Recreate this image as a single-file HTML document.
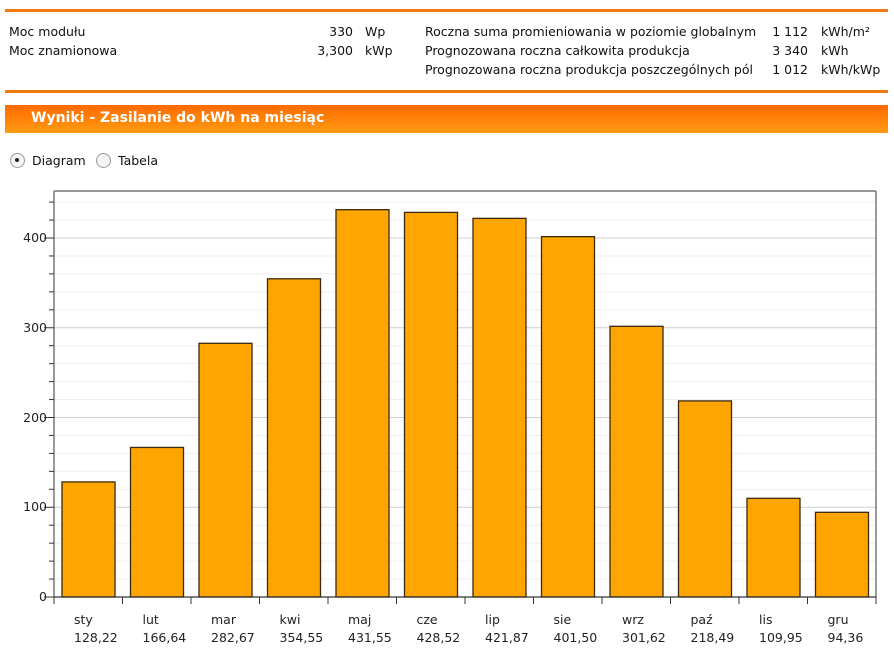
<!DOCTYPE html>
<html><head><meta charset="utf-8"><style>
body{margin:0;width:894px;height:662px;background:#fff;font-family:"DejaVu Sans","Liberation Sans",sans-serif;font-size:12.5px;color:#111;position:relative;overflow:hidden}
.a{position:absolute;white-space:nowrap}
.r{text-align:right}
</style></head><body>
<div class="a" style="left:5px;top:9px;width:883px;height:3px;background:#f07a10"></div>
<div class="a" style="left:9px;top:24px">Moc modułu</div>
<div class="a" style="left:9px;top:43px">Moc znamionowa</div>
<div class="a r" style="left:280px;width:73px;top:24px">330</div>
<div class="a r" style="left:280px;width:73px;top:43px">3,300</div>
<div class="a" style="left:365px;top:24px">Wp</div>
<div class="a" style="left:365px;top:43px">kWp</div>
<div class="a" style="left:425px;top:24px">Roczna suma promieniowania w poziomie globalnym</div>
<div class="a" style="left:425px;top:43px">Prognozowana roczna całkowita produkcja</div>
<div class="a" style="left:425px;top:62px">Prognozowana roczna produkcja poszczególnych pól</div>
<div class="a r" style="left:740px;width:68px;top:24px">1 112</div>
<div class="a r" style="left:740px;width:68px;top:43px">3 340</div>
<div class="a r" style="left:740px;width:68px;top:62px">1 012</div>
<div class="a" style="left:821px;top:24px">kWh/m²</div>
<div class="a" style="left:821px;top:43px">kWh</div>
<div class="a" style="left:821px;top:62px">kWh/kWp</div>
<div class="a" style="left:5px;top:90px;width:883px;height:3px;background:#f07a10"></div>
<div class="a" style="left:5px;top:105px;width:883px;height:28px;background:linear-gradient(#ff6a00,#ff9a10)"></div>
<div class="a" style="left:31px;top:110px;color:#fff;font-weight:bold;font-size:14px">Wyniki - Zasilanie do kWh na miesiąc</div>
<div class="a" style="left:10px;top:153px;width:13px;height:13px;border:1px solid #999;border-radius:50%;background:#f4f4f4"></div>
<div class="a" style="left:15px;top:158px;width:4px;height:4px;border-radius:50%;background:#222"></div>
<div class="a" style="left:32px;top:153px">Diagram</div>
<div class="a" style="left:96px;top:153px;width:13px;height:13px;border:1px solid #999;border-radius:50%;background:#f4f4f4"></div>
<div class="a" style="left:118px;top:153px">Tabela</div>
<svg class="a" style="left:0;top:0" width="894" height="662" font-family="DejaVu Sans, Liberation Sans, sans-serif" font-size="12.5" fill="#222">
<g stroke="#efefef">
<line x1="54" x2="876" y1="579.05" y2="579.05"/><line x1="54" x2="876" y1="561.1" y2="561.1"/><line x1="54" x2="876" y1="543.15" y2="543.15"/><line x1="54" x2="876" y1="525.2" y2="525.2"/>
<line x1="54" x2="876" y1="489.3" y2="489.3"/><line x1="54" x2="876" y1="471.35" y2="471.35"/><line x1="54" x2="876" y1="453.4" y2="453.4"/><line x1="54" x2="876" y1="435.45" y2="435.45"/>
<line x1="54" x2="876" y1="399.55" y2="399.55"/><line x1="54" x2="876" y1="381.6" y2="381.6"/><line x1="54" x2="876" y1="363.65" y2="363.65"/><line x1="54" x2="876" y1="345.7" y2="345.7"/>
<line x1="54" x2="876" y1="309.8" y2="309.8"/><line x1="54" x2="876" y1="291.85" y2="291.85"/><line x1="54" x2="876" y1="273.9" y2="273.9"/><line x1="54" x2="876" y1="255.95" y2="255.95"/>
<line x1="54" x2="876" y1="220.05" y2="220.05"/><line x1="54" x2="876" y1="202.1" y2="202.1"/>
</g>
<g stroke="#cfcfcf">
<line x1="54" x2="876" y1="507.25" y2="507.25"/><line x1="54" x2="876" y1="417.5" y2="417.5"/><line x1="54" x2="876" y1="327.75" y2="327.75"/><line x1="54" x2="876" y1="238" y2="238"/>
</g>
<g stroke="#333">
<line x1="49" x2="54" y1="579.05" y2="579.05"/><line x1="49" x2="54" y1="561.1" y2="561.1"/><line x1="49" x2="54" y1="543.15" y2="543.15"/><line x1="49" x2="54" y1="525.2" y2="525.2"/>
<line x1="49" x2="54" y1="489.3" y2="489.3"/><line x1="49" x2="54" y1="471.35" y2="471.35"/><line x1="49" x2="54" y1="453.4" y2="453.4"/><line x1="49" x2="54" y1="435.45" y2="435.45"/>
<line x1="49" x2="54" y1="399.55" y2="399.55"/><line x1="49" x2="54" y1="381.6" y2="381.6"/><line x1="49" x2="54" y1="363.65" y2="363.65"/><line x1="49" x2="54" y1="345.7" y2="345.7"/>
<line x1="49" x2="54" y1="309.8" y2="309.8"/><line x1="49" x2="54" y1="291.85" y2="291.85"/><line x1="49" x2="54" y1="273.9" y2="273.9"/><line x1="49" x2="54" y1="255.95" y2="255.95"/>
<line x1="49" x2="54" y1="220.05" y2="220.05"/><line x1="49" x2="54" y1="202.1" y2="202.1"/>
<line x1="44" x2="54" y1="597" y2="597"/><line x1="44" x2="54" y1="507.25" y2="507.25"/><line x1="44" x2="54" y1="417.5" y2="417.5"/><line x1="44" x2="54" y1="327.75" y2="327.75"/><line x1="44" x2="54" y1="238" y2="238"/>
</g>
<g text-anchor="end">
<text x="47" y="601">0</text><text x="47" y="511">100</text><text x="47" y="422">200</text><text x="47" y="332">300</text><text x="47" y="242">400</text>
</g>
<g fill="#ffa500" stroke="#3a2a10" stroke-width="1.3">
<rect x="62" y="481.92" width="53" height="115.08"/>
<rect x="130.5" y="447.44" width="53" height="149.56"/>
<rect x="199" y="343.3" width="53" height="253.7"/>
<rect x="267.5" y="278.79" width="53" height="318.21"/>
<rect x="336" y="209.68" width="53" height="387.32"/>
<rect x="404.5" y="212.4" width="53" height="384.6"/>
<rect x="473" y="218.37" width="53" height="378.63"/>
<rect x="541.5" y="236.65" width="53" height="360.35"/>
<rect x="610" y="326.3" width="53" height="270.7"/>
<rect x="678.5" y="400.91" width="53" height="196.09"/>
<rect x="747" y="498.32" width="53" height="98.68"/>
<rect x="815.5" y="512.31" width="53" height="84.69"/>
</g>
<g stroke="#333">
<line x1="54" x2="54" y1="597" y2="604"/><line x1="122.5" x2="122.5" y1="597" y2="604"/><line x1="191" x2="191" y1="597" y2="604"/><line x1="259.5" x2="259.5" y1="597" y2="604"/><line x1="328" x2="328" y1="597" y2="604"/><line x1="396.5" x2="396.5" y1="597" y2="604"/><line x1="465" x2="465" y1="597" y2="604"/><line x1="533.5" x2="533.5" y1="597" y2="604"/><line x1="602" x2="602" y1="597" y2="604"/><line x1="670.5" x2="670.5" y1="597" y2="604"/><line x1="739" x2="739" y1="597" y2="604"/><line x1="807.5" x2="807.5" y1="597" y2="604"/><line x1="876" x2="876" y1="191" y2="604"/>
<line x1="54" x2="54" y1="191" y2="604"/><line x1="54" x2="876" y1="597" y2="597" stroke-width="1.3"/>
</g>
<line x1="54" x2="876" y1="191" y2="191" stroke="#777" stroke-width="1.5"/>
<g>
<text x="74" y="624">sty</text><text x="74" y="642">128,22</text>
<text x="142.5" y="624">lut</text><text x="142.5" y="642">166,64</text>
<text x="211" y="624">mar</text><text x="211" y="642">282,67</text>
<text x="279.5" y="624">kwi</text><text x="279.5" y="642">354,55</text>
<text x="348" y="624">maj</text><text x="348" y="642">431,55</text>
<text x="416.5" y="624">cze</text><text x="416.5" y="642">428,52</text>
<text x="485" y="624">lip</text><text x="485" y="642">421,87</text>
<text x="553.5" y="624">sie</text><text x="553.5" y="642">401,50</text>
<text x="622" y="624">wrz</text><text x="622" y="642">301,62</text>
<text x="690.5" y="624">paź</text><text x="690.5" y="642">218,49</text>
<text x="759" y="624">lis</text><text x="759" y="642">109,95</text>
<text x="827.5" y="624">gru</text><text x="827.5" y="642">94,36</text>
</g>
</svg>
</body></html>
